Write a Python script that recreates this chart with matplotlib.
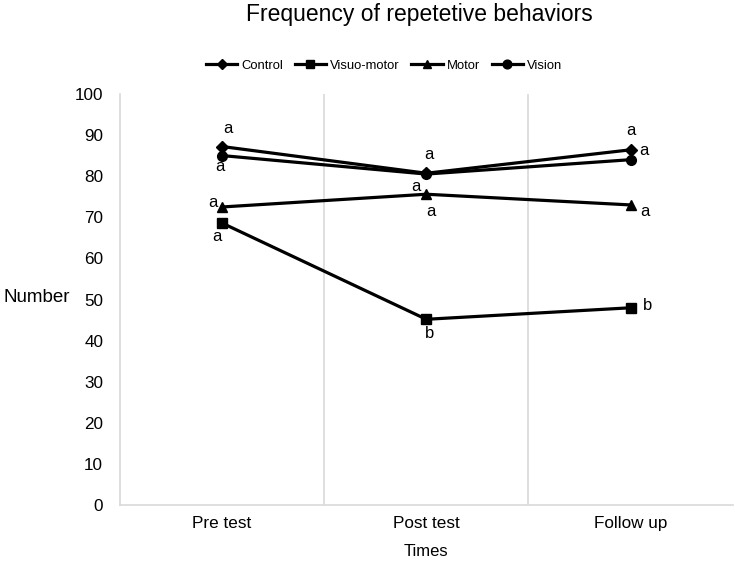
import numpy as np
import matplotlib.pyplot as plt

plt.rcParams['font.family'] = ['Liberation Sans', 'DejaVu Sans']

# 数据
times = ['Pre test', 'Post test', 'Follow up']
control = [87.2, 80.7, 86.4]
visuo_motor = [68.6, 45.2, 48.0]
motor = [72.5, 75.6, 73.0]
vision = [85.0, 80.5, 84.0]

# 显著性字母
lab_control = ['a', 'a', 'a']
lab_visuo = ['a', 'b', 'b']
lab_motor = ['a', 'a', 'a']
lab_vision = ['a', 'a', 'a']

x = np.arange(len(times))

fig = plt.figure(figsize=(7.35, 5.62), dpi=100)
ax = fig.add_axes([0.163, 0.101, 0.834, 0.732])

series = [
    ('Control', control, 'D', 6, lab_control, [(6, 18), (3, 19), (0, 19)]),
    ('Visuo-motor', visuo_motor, 's', 7, lab_visuo, [(-5, -13), (3, -14), (17, 2)]),
    ('Motor', motor, '^', 7, lab_motor, [(-9, 4), (5, -17), (14, -7)]),
    ('Vision', vision, 'o', 7, lab_vision, [(-2, -11), (-10, -12), (13, 9)]),
]

for name, vals, mk, ms, labs, offs in series:
    ax.plot(x, vals, color='black', lw=2.3, marker=mk, markersize=ms, label=name)
    for xi, v, lb, off in zip(x, vals, labs, offs):
        ax.annotate(lb, (xi, v), xytext=off, textcoords='offset pixels',
                    ha='center', va='center', fontsize=12)

ax.set_xlim(-0.5, 2.5)
ax.set_ylim(0, 100)
ax.set_yticks(np.arange(0, 101, 10))
ax.set_xticks(x)
ax.set_xticklabels(times)
ax.tick_params(axis='both', length=0, labelsize=12.3)
ax.tick_params(axis='y', pad=12)
ax.tick_params(axis='x', pad=8)

for xv in [0.5, 1.5]:
    ax.axvline(xv, color='#d9d9d9', lw=1.2, zorder=0)

for s in ['top', 'right']:
    ax.spines[s].set_visible(False)
for s in ['left', 'bottom']:
    ax.spines[s].set_color('#d9d9d9')
    ax.spines[s].set_linewidth(1.2)

ax.set_ylabel('Number', rotation=0, fontsize=13.5, ha='center', va='center')
ax.yaxis.set_label_coords(-0.136, 0.506)
ax.set_xlabel('Times', fontsize=12, labelpad=9)

fig.text(0.571, 0.975, 'Frequency of repetetive behaviors', ha='center', va='center', fontsize=16.5)

ax.legend(loc='center', bbox_to_anchor=(0.431, 1.068), ncol=4, frameon=False,
          fontsize=9.4, handlelength=2.4, columnspacing=0.9, handletextpad=0.3,
          markerscale=0.9)

fig.savefig('out.png', dpi=100)
